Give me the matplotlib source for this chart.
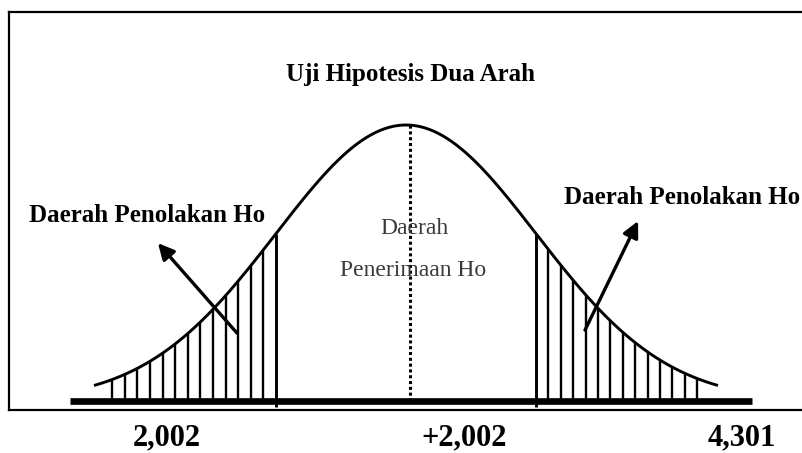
import numpy as np
import matplotlib
matplotlib.use("Agg")
import matplotlib.pyplot as plt

# chart content
title = "Uji Hipotesis Dua Arah"
reject_label = "Daerah Penolakan Ho"
accept_label = ["Daerah", "Penerimaan Ho"]
bottom_labels = ["2,002", "+2,002", "4,301"]
z_crit = [-1.0, 1.0]          # critical points (in sd units of the drawn curve)
z_end = 2.4                   # where the drawn curve stops
n_hatch = 14                  # hatch lines in each tail

W, H = 803, 453
fig = plt.figure(figsize=(W / 100, H / 100), dpi=100)

def px(x, y):
    # pixel position -> figure fraction
    return x / W, 1 - y / H

# axes = the framed box
l, t, r, b = 9, 12, 805, 410
ax = fig.add_axes([l / W, 1 - b / H, (r - l) / W, (b - t) / H])
cx, sx = 406, 130             # centre pixel, pixels per sd
base, peak = 401, 125
ax.set_xlim((l - cx) / sx, (r - cx) / sx)
ax.set_ylim(-(b - base) / (base - peak), (base - t) / (base - peak))
ax.set_xticks([])
ax.set_yticks([])
for s in ax.spines.values():
    s.set_linewidth(1.6)
ax.spines["right"].set_visible(False)

def pdf(z):
    return np.exp(-z ** 2 / 2)

z = np.linspace(-z_end, z_end, 400)
ax.plot(z, pdf(z), color="black", lw=2.1, solid_capstyle="butt")

# baseline
ax.plot([(70 - cx) / sx, (752 - cx) / sx], [0, 0], color="black", lw=4.8,
        solid_capstyle="butt")

# hatched tails
left_x = np.linspace(-2.26, z_crit[0], n_hatch)
right_x = np.linspace(z_crit[1], 2.24, n_hatch)
ax.vlines(left_x[:-1], 0, pdf(left_x[:-1]), color="black", lw=1.7)
ax.vlines(right_x[1:], 0, pdf(right_x[1:]), color="black", lw=1.7)
ax.vlines(z_crit, -0.02, pdf(np.array(z_crit)), color="black", lw=2.1)

# dotted centre line
ax.plot([0.03, 0.03], [0.0, 1.0], color="black", lw=2.2,
        linestyle=(0, (1, 0.9)))

# arrows
ax.annotate("", xy=(-1.908, 0.572), xytext=(-1.30, 0.246),
            arrowprops=dict(arrowstyle="-|>", color="black", lw=2.4,
                            mutation_scale=24, shrinkA=0, shrinkB=0))
ax.annotate("", xy=(1.785, 0.652), xytext=(1.377, 0.257),
            arrowprops=dict(arrowstyle="-|>", color="black", lw=2.4,
                            mutation_scale=24, shrinkA=0, shrinkB=0))

serif = "Liberation Serif"
fig.text(*px(410, 75), title, family=serif, weight="bold", fontsize=18,
         ha="center", va="center")
fig.text(*px(147, 215), reject_label, family=serif, weight="bold", fontsize=18,
         ha="center", va="center")
fig.text(*px(682, 197), reject_label, family=serif, weight="bold", fontsize=18,
         ha="center", va="center")
fig.text(*px(414, 228), accept_label[0], family=serif, fontsize=17,
         color="#3a3a3a", ha="center", va="center")
fig.text(*px(413, 270), accept_label[1], family=serif, fontsize=17,
         color="#3a3a3a", ha="center", va="center")

for lab, x in zip(bottom_labels, [167, 464, 742]):
    fig.text(*px(x, 438), lab, family=serif, weight="bold", fontsize=22,
             ha="center", va="center")

fig.savefig("out.png", dpi=100)
